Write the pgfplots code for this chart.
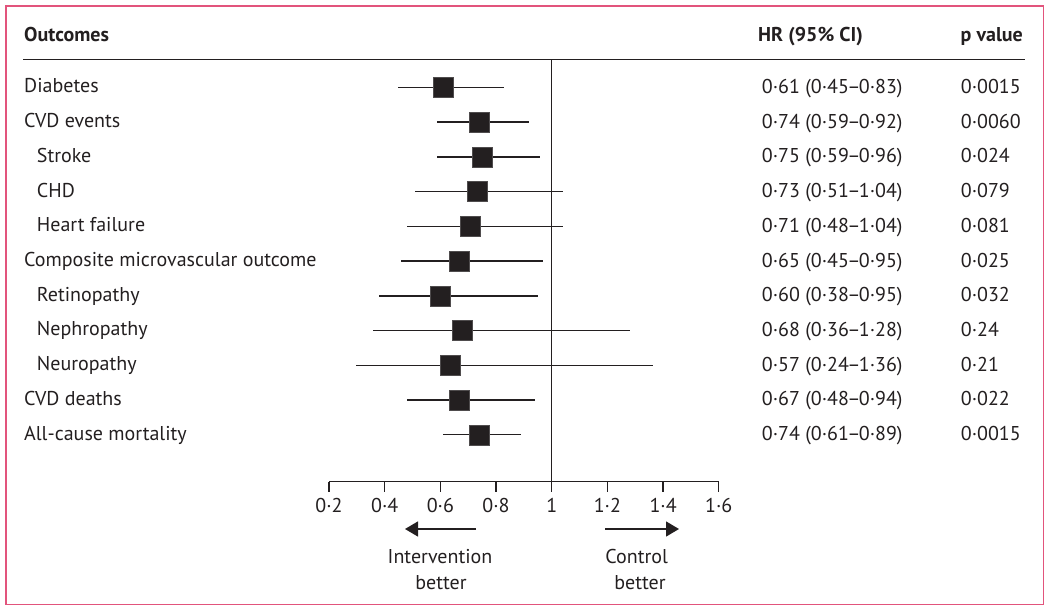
\documentclass[border=0pt]{standalone}
\usepackage{fontspec}
\setmainfont{PT Sans}
\usepackage{pgfplots}
\usepackage{pgfplotstable}
\pgfplotsset{compat=1.18}
\usetikzlibrary{arrows.meta}
\definecolor{ink}{RGB}{35,31,32}
\definecolor{frame}{RGB}{226,84,124}

% rows: y = -row index (1 = top)
\pgfplotstableread{
y hr lo hi
-1 0.609 0.449 0.829
-2 0.740 0.589 0.919
-3 0.750 0.589 0.959
-4 0.731 0.510 1.039
-5 0.709 0.479 1.039
-6 0.669 0.459 0.970
-7 0.598 0.379 0.950
-8 0.680 0.359 1.281
-9 0.637 0.298 1.363
-10 0.668 0.479 0.939
-11 0.739 0.611 0.890
}\data

\newcommand{\dash}{\kern-1.6pt–\kern-1.6pt}

\begin{document}
\begin{tikzpicture}[x=1pt,y=1pt,font=\fontsize{20pt}{24pt}\selectfont, text=ink]
\path[use as bounding box] (0,0) rectangle (1050,-610);
\draw[frame, line width=1.6pt] (5.7,-6) rectangle (1043.3,-604.3);

\begin{axis}[
  at={(329pt,-481.7pt)}, anchor=south west,
  scale only axis, width=389.76pt, height=422.1pt,
  xmin=0.2, xmax=1.6, ymin=-12.35, ymax=-0.2,
  enlargelimits=false, clip=false,
  axis x line*=bottom, axis y line=none,
  axis line style={ink, line width=1.4pt},
  xtick={0.2,0.4,0.6,0.8,1,1.2,1.4,1.6},
  xticklabels={0·2,0·4,0·6,0·8,1,1·2,1·4,1·6},
  tick align=outside, major tick length=10pt,
  tick style={ink, line width=1.4pt},
  xticklabel style={font=\fontsize{20pt}{24pt}\selectfont, anchor=base, yshift=-21pt, text=ink},
  /pgf/number format/assume math mode=true,
]
\addplot[ink, line width=1.5pt] coordinates {(1,-0.2) (1,-12.35)};
\addplot[only marks, mark=none, error bars/.cd, x dir=both, x explicit, error mark=none,
  error bar style={line width=1.35pt, draw=ink}]
  table[x=hr, y=y, x error minus expr=\thisrow{hr}-\thisrow{lo}, x error plus expr=\thisrow{hi}-\thisrow{hr}] {\data};
\addplot[only marks, mark=square*, mark size=10pt, mark options={fill=ink, draw=ink!80, line width=0.6pt}]
  table[x=hr, y=y] {\data};
\end{axis}

% header
\node[anchor=base west, inner sep=0, font=\fontsize{20pt}{24pt}\selectfont\bfseries] at (24,-41.7) {Outcomes};
\node[anchor=base west, inner sep=0, font=\fontsize{20pt}{24pt}\selectfont\bfseries] at (758,-41.7) {HR (95\% CI)};
\node[anchor=base east, inner sep=0, font=\fontsize{20pt}{24pt}\selectfont\bfseries] at (1023,-41.7) {p value};
\draw[ink, line width=1.4pt] (23,-59.3) -- (1025,-59.3);

% rows
\foreach \i/\lab/\ind/\hr/\p in {
 1/Diabetes/0/0·61 (0·45\dash 0·83)/0·0015,
 2/CVD events/0/0·74 (0·59\dash 0·92)/0·0060,
 3/Stroke/1/0·75 (0·59\dash 0·96)/0·024,
 4/CHD/1/0·73 (0·51\dash 1·04)/0·079,
 5/Heart failure/1/0·71 (0·48\dash 1·04)/0·081,
 6/Composite microvascular outcome/0/0·65 (0·45\dash 0·95)/0·025,
 7/Retinopathy/1/0·60 (0·38\dash 0·95)/0·032,
 8/Nephropathy/1/0·68 (0·36\dash 1·28)/0·24,
 9/Neuropathy/1/0·57 (0·24\dash 1·36)/0·21,
 10/CVD deaths/0/0·67 (0·48\dash 0·94)/0·022,
 11/All-cause mortality/0/0·74 (0·61\dash 0·89)/0·0015}{
  \pgfmathsetmacro{\yy}{-(87.3+(\i-1)*34.74)}
  \pgfmathsetmacro{\xx}{24+12.7*\ind}
  \node[anchor=base west, inner sep=0] at (\xx,\yy-5.5) {\lab};
  \node[anchor=base west, inner sep=0] at (761.7,\yy-6) {\hr};
  \node[anchor=base west, inner sep=0] at (960.7,\yy-6) {\p};
}

% direction arrows
\draw[ink, line width=1.4pt, -{Triangle[length=13pt,width=15pt]}] (476,-529) -- (405,-529);
\draw[ink, line width=1.4pt, -{Triangle[length=13pt,width=15pt]}] (605,-529) -- (679,-529);
\node[anchor=base, inner sep=0] at (440,-563.3) {Intervention};
\node[anchor=base, inner sep=0] at (441,-589) {better};
\node[anchor=base, inner sep=0] at (636.7,-563.3) {Control};
\node[anchor=base, inner sep=0] at (640,-589) {better};
\end{tikzpicture}
\end{document}
